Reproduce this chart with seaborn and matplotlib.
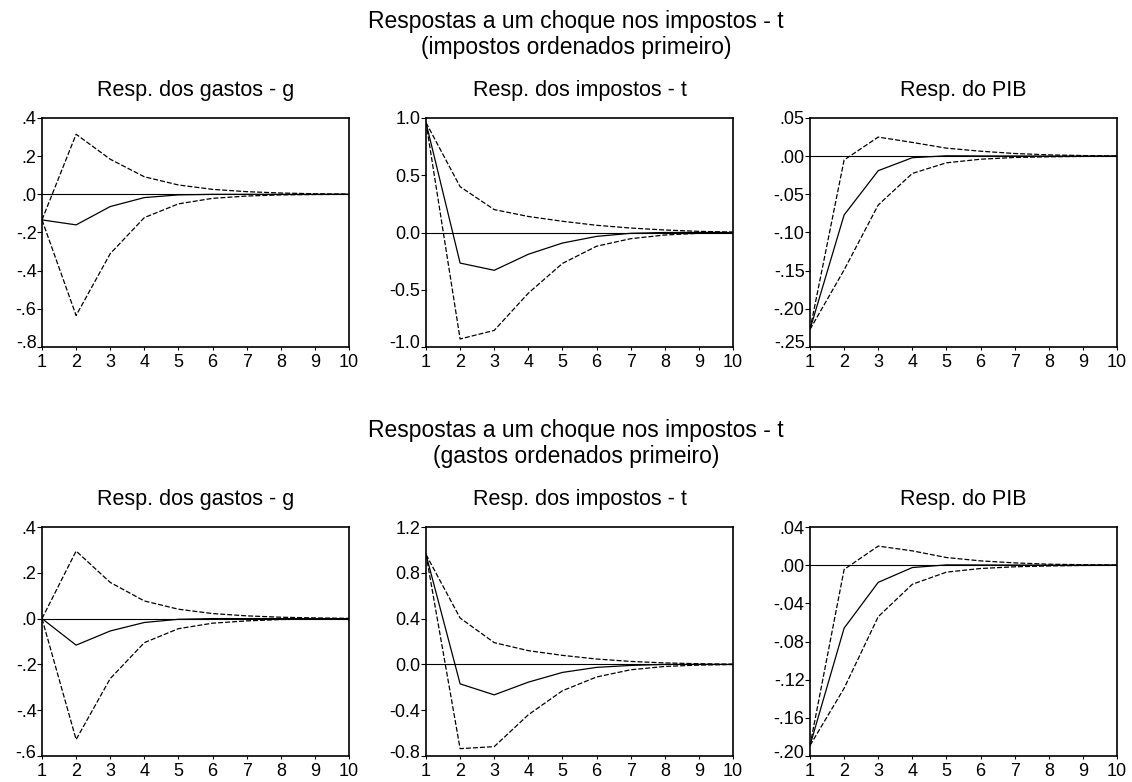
import numpy as np
import pandas as pd
import matplotlib
matplotlib.use("Agg")
import matplotlib.pyplot as plt
import matplotlib.transforms as mtransforms
import seaborn as sns

# Impulse-response horizons
periods = list(range(1, 11))

# --- Ordering 1: taxes first ---
g_resp_1 = [-0.134, -0.160, -0.064, -0.017, -0.003, 0.000, 0.000, 0.000, 0.000, 0.000]
g_up_1 = [-0.134, 0.315, 0.184, 0.092, 0.049, 0.026, 0.014, 0.007, 0.003, 0.001]
g_lo_1 = [-0.134, -0.635, -0.311, -0.122, -0.050, -0.021, -0.009, -0.003, -0.001, 0.000]

t_resp_1 = [0.960, -0.267, -0.330, -0.190, -0.092, -0.034, -0.007, 0.000, 0.001, 0.000]
t_up_1 = [0.960, 0.400, 0.200, 0.140, 0.098, 0.063, 0.039, 0.022, 0.010, 0.004]
t_lo_1 = [0.960, -0.930, -0.855, -0.530, -0.270, -0.120, -0.054, -0.022, -0.007, -0.001]

y_resp_1 = [-0.227, -0.077, -0.019, -0.002, 0.0005, 0.0003, 0.0002, 0.0001, 0.0, 0.0]
y_up_1 = [-0.227, -0.005, 0.025, 0.018, 0.0105, 0.0065, 0.0035, 0.0017, 0.0008, 0.0003]
y_lo_1 = [-0.227, -0.149, -0.064, -0.0226, -0.0087, -0.004, -0.0017, -0.0008, -0.0003, 0.0]

# --- Ordering 2: spending first ---
g_resp_2 = [0.000, -0.116, -0.054, -0.017, -0.003, 0.000, 0.000, 0.000, 0.000, 0.000]
g_up_2 = [0.000, 0.295, 0.158, 0.077, 0.041, 0.022, 0.012, 0.006, 0.003, 0.001]
g_lo_2 = [0.000, -0.528, -0.262, -0.105, -0.044, -0.020, -0.010, -0.004, -0.002, -0.001]

t_resp_2 = [0.960, -0.170, -0.266, -0.155, -0.070, -0.026, -0.009, 0.000, 0.000, 0.000]
t_up_2 = [0.960, 0.405, 0.190, 0.120, 0.079, 0.047, 0.026, 0.013, 0.006, 0.002]
t_lo_2 = [0.960, -0.736, -0.718, -0.440, -0.230, -0.110, -0.047, -0.018, -0.006, -0.001]

y_resp_2 = [-0.189, -0.066, -0.018, -0.0025, 0.0003, 0.0002, 0.0001, 0.0, 0.0, 0.0]
y_up_2 = [-0.189, -0.0045, 0.020, 0.015, 0.008, 0.0045, 0.0024, 0.001, 0.0005, 0.0002]
y_lo_2 = [-0.189, -0.129, -0.054, -0.020, -0.0073, -0.0035, -0.0017, -0.0008, -0.0003, -0.0001]

# Panel titles and axis ticks
block_titles = [
    ("Respostas a um choque nos impostos - t", "(impostos ordenados primeiro)"),
    ("Respostas a um choque nos impostos - t", "(gastos ordenados primeiro)"),
]
panel_titles = ["Resp. dos gastos - g", "Resp. dos impostos - t", "Resp. do PIB"]

yticks_1 = [
    [0.4, 0.2, 0.0, -0.2, -0.4, -0.6, -0.8],
    [1.0, 0.5, 0.0, -0.5, -1.0],
    [0.05, 0.0, -0.05, -0.10, -0.15, -0.20, -0.25],
]
ylabels_1 = [
    [".4", ".2", ".0", "-.2", "-.4", "-.6", "-.8"],
    ["1.0", "0.5", "0.0", "-0.5", "-1.0"],
    [".05", ".00", "-.05", "-.10", "-.15", "-.20", "-.25"],
]
yticks_2 = [
    [0.4, 0.2, 0.0, -0.2, -0.4, -0.6],
    [1.2, 0.8, 0.4, 0.0, -0.4, -0.8],
    [0.04, 0.0, -0.04, -0.08, -0.12, -0.16, -0.20],
]
ylabels_2 = [
    [".4", ".2", ".0", "-.2", "-.4", "-.6"],
    ["1.2", "0.8", "0.4", "0.0", "-0.4", "-0.8"],
    [".04", ".00", "-.04", "-.08", "-.12", "-.16", "-.20"],
]

panels = [
    [(g_resp_1, g_lo_1, g_up_1), (t_resp_1, t_lo_1, t_up_1), (y_resp_1, y_lo_1, y_up_1)],
    [(g_resp_2, g_lo_2, g_up_2), (t_resp_2, t_lo_2, t_up_2), (y_resp_2, y_lo_2, y_up_2)],
]
yticks_all = [yticks_1, yticks_2]
ylabels_all = [ylabels_1, ylabels_2]

sns.set_theme(style="white")
plt.rcParams["font.family"] = ["Liberation Sans", "DejaVu Sans"]
plt.rcParams["axes.unicode_minus"] = False

W, H = 1132, 782
fig = plt.figure(figsize=(W / 100, H / 100), dpi=100)
fig.patch.set_facecolor("white")

col_left = [42, 426, 810]
ax_w = 307
row_top = [118, 527]
ax_h = 229

line_styles = {"resp": "", "inf": (4, 1.6), "sup": (4, 1.6)}
line_colors = {"resp": "black", "inf": "black", "sup": "black"}

for r in range(2):
    top = row_top[r]
    mid_x = 576 / W
    fig.text(mid_x, 1 - (top - 90) / H, block_titles[r][0], ha="center",
             va="baseline", fontsize=16.5, color="black")
    fig.text(mid_x, 1 - (top - 64) / H, block_titles[r][1], ha="center",
             va="baseline", fontsize=16.5, color="black")
    for c in range(3):
        ax = fig.add_axes([col_left[c] / W, 1 - (top + ax_h) / H, ax_w / W, ax_h / H])
        resp, lo, up = panels[r][c]
        df = pd.DataFrame({
            "periodo": periods * 3,
            "valor": list(resp) + list(lo) + list(up),
            "serie": ["resp"] * 10 + ["inf"] * 10 + ["sup"] * 10,
        })
        ax.axhline(0, color="black", lw=0.8, zorder=1)
        sns.lineplot(data=df, x="periodo", y="valor", hue="serie", style="serie",
                     dashes=line_styles, palette=line_colors, lw=0.9,
                     legend=False, ax=ax, zorder=2)
        ticks = yticks_all[r][c]
        ax.set_xlim(1, 10)
        ax.set_ylim(min(ticks), max(ticks))
        ax.set_xticks(periods)
        ax.set_xticklabels([str(p) for p in periods])
        ax.set_yticks(ticks)
        ax.set_yticklabels(ylabels_all[r][c])
        ax.set_xlabel("")
        ax.set_ylabel("")
        ax.set_title(panel_titles[c], fontsize=15.5, pad=15.5, color="black")
        ax.tick_params(axis="both", direction="out", width=0.8, colors="black",
                       labelsize=13, left=True, bottom=True, top=False, right=False)
        ax.tick_params(axis="y", length=3.6, pad=0.3)
        ax.tick_params(axis="x", length=2.2, pad=2.5)
        # lift the lowest y label clear of the period labels
        low_lab = ax.get_yticklabels()[-1]
        low_lab.set_transform(low_lab.get_transform() +
                              mtransforms.ScaledTranslation(0, 5 / 100, fig.dpi_scale_trans))
        for sp in ax.spines.values():
            sp.set_color("black")
            sp.set_linewidth(1.2)
        ax.set_facecolor("white")

fig.savefig("out.png", dpi=100, facecolor="white")
